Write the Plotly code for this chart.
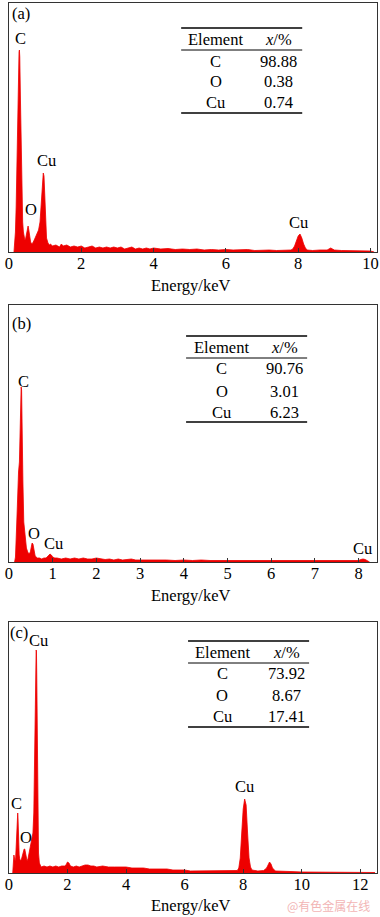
import plotly.graph_objects as go

# ---------------- data (relative intensity, arbitrary units) ----------------
# Panel (a)
energy_a = [0.14, 0.16, 0.18, 0.20, 0.22, 0.24, 0.26, 0.28, 0.29, 0.30, 0.32, 0.34, 0.36, 0.38,
            0.40, 0.42, 0.44, 0.46, 0.48, 0.50, 0.52, 0.53, 0.55, 0.57, 0.60, 0.63, 0.66, 0.70,
            0.74, 0.78, 0.82, 0.86, 0.90, 0.93, 0.95, 0.97, 0.99, 1.01, 1.04, 1.08, 1.12,
            1.15, 1.2, 1.3, 1.4, 1.45, 1.5, 1.6, 1.7, 1.8, 1.9, 2.0, 2.1, 2.2, 2.3, 2.4, 2.5,
            2.6, 2.7, 2.8, 2.9, 3.0, 3.1, 3.2, 3.3, 3.4, 3.5, 3.6, 3.7, 3.8, 3.9, 4.0, 4.2,
            4.4, 4.6, 4.8, 5.0, 5.2, 5.4, 5.6, 5.8, 6.0, 6.2, 6.4, 6.6, 6.8, 7.0, 7.2, 7.4,
            7.6, 7.8, 7.85, 7.9, 7.95, 8.0, 8.05, 8.1, 8.15, 8.2, 8.25, 8.4, 8.6, 8.8, 8.85,
            8.9, 8.95, 9.0, 9.2, 9.4, 9.6, 9.8, 10.0, 10.1]
counts_a = [0, 8, 20, 45, 90, 140, 185, 200, 202, 195, 150, 90, 50, 30,
            20, 14, 12, 13, 17, 22, 26, 26, 22, 15, 10, 8, 9, 12,
            16, 19, 22, 30, 50, 72, 79, 76, 55, 30, 14, 9, 7,
            8, 6, 7, 5, 8, 6, 7, 5, 6, 5, 6, 4, 5, 6, 4, 5,
            4, 5, 4, 5, 4, 5, 3, 4, 5, 3, 4, 3, 4, 3, 4, 3,
            3.5, 2.5, 3, 2.5, 3, 2, 2.5, 2, 2.5, 2, 2, 2.5, 1.5, 2, 2, 1.5,
            2, 2, 3, 6, 11, 16, 18, 14, 8, 4, 2, 1.5, 2, 2, 3,
            4, 3, 2, 1.5, 1.5, 1, 1.5, 1, 0]

# Panel (b)
energy_b = [0.13, 0.15, 0.18, 0.20, 0.22, 0.24, 0.26, 0.27, 0.28, 0.29, 0.30, 0.31, 0.32, 0.34,
            0.36, 0.38, 0.40, 0.43, 0.46, 0.49, 0.51, 0.53, 0.55, 0.57, 0.60, 0.65, 0.70, 0.75,
            0.80, 0.85, 0.90, 0.94, 0.97, 1.00, 1.05, 1.1, 1.2, 1.3, 1.4, 1.5, 1.6, 1.7, 1.8,
            1.9, 2.0, 2.1, 2.2, 2.3, 2.4, 2.5, 2.6, 2.7, 2.8, 2.9, 3.0, 3.2, 3.4, 3.6, 3.8,
            4.0, 4.2, 4.4, 4.6, 4.8, 5.0, 5.2, 5.4, 5.6, 5.8, 6.0, 6.2, 6.4, 6.6, 6.8, 7.0,
            7.2, 7.4, 7.6, 7.8, 8.0, 8.05, 8.1, 8.15, 8.2, 8.25]
counts_b = [0, 5, 40, 70, 90, 100, 150, 165, 175, 172, 130, 105, 80, 40,
            28, 20, 14, 10, 8, 10, 15, 19, 18, 12, 6, 4, 4, 3,
            4, 4, 6, 8, 7, 5, 4, 4, 3, 4, 3, 4, 3, 4, 3,
            3, 4, 3, 2.5, 3, 2, 3, 2, 2.5, 3, 2, 2, 2.5, 2, 2, 1.5,
            2, 1.5, 2, 1.5, 1.5, 1.5, 1, 1.5, 1, 1.5, 1, 1, 1.5, 1, 1, 1,
            1, 1, 1, 1, 1.5, 2.5, 3, 2.5, 1, 0]

# Panel (c)
energy_c = [0.13, 0.15, 0.17, 0.19, 0.21, 0.23, 0.25, 0.27, 0.29, 0.30, 0.31, 0.33, 0.35, 0.37,
            0.40, 0.43, 0.46, 0.49, 0.52, 0.54, 0.56, 0.59, 0.62, 0.65, 0.70, 0.74, 0.78, 0.82,
            0.85, 0.87, 0.89, 0.91, 0.93, 0.94, 0.95, 0.97, 0.99, 1.01, 1.04, 1.08,
            1.1, 1.2, 1.3, 1.4, 1.5, 1.6, 1.7, 1.8, 1.9, 1.95, 2.0, 2.05, 2.1, 2.2, 2.3, 2.4,
            2.5, 2.6, 2.7, 2.8, 2.9, 3.0, 3.2, 3.4, 3.6, 3.8, 4.0, 4.2, 4.4, 4.6, 4.8, 5.0,
            5.2, 5.4, 5.6, 5.8, 6.0, 6.2, 6.4, 6.6, 6.8, 7.0, 7.2, 7.4, 7.6, 7.8, 7.85, 7.9,
            7.95, 8.0, 8.05, 8.1, 8.15, 8.2, 8.25, 8.3, 8.5, 8.7, 8.8, 8.85, 8.9, 8.95, 9.0,
            9.1, 9.3, 9.6, 10.0, 10.5, 11.0, 11.5, 12.0, 12.5]
counts_c = [0, 10, 18, 15, 12, 15, 25, 45, 58, 60, 55, 30, 18, 14,
            12, 14, 18, 22, 24, 24, 20, 14, 12, 14, 22, 28, 32, 40,
            60, 100, 140, 200, 223, 222, 200, 120, 50, 20, 10, 7,
            6, 7, 6, 7, 6, 7, 6, 7, 7, 8, 11, 10, 7, 6, 7, 6,
            7, 8, 8, 7, 7, 6, 7, 6, 6, 6, 6, 5, 5, 5, 4, 4,
            4, 4, 3, 3, 3, 2, 2, 2, 2, 2, 2, 2, 2, 2.5, 5, 15,
            40, 64, 74, 68, 40, 15, 6, 3, 2, 2.5, 5, 8, 11, 9, 5,
            2, 1.5, 1.5, 1, 1, 1, 1, 1, 0.5]

# composition tables
elements = ["C", "O", "Cu"]
fraction_a = ["98.88", "0.38", "0.74"]
fraction_b = ["90.76", "3.01", "6.23"]
fraction_c = ["73.92", "8.67", "17.41"]

# ---------------- layout helpers ----------------
W, H = 380, 917
RED = "#ee0000"
FONT = "Liberation Serif"
FS = 16.5


def px(x, y):
    return x / W, 1 - y / H


fig = go.Figure()

panels = [
    dict(e=energy_a, c=counts_a, top=3, bot=252, xr=[0, 10.18], dt=2, name="x", yname="y",
         tab=dict(x0=180, x1=303, lines=[28, 50, 113], hy=39, rows=[61, 82, 102], c1=215, c2=279,
                  vals=fraction_a),
         labels=[("(a)", 17, 13), ("C", 17, 38), ("O", 27, 210), ("Cu", 43, 161), ("Cu", 299, 222)],
         title_y=285),
    dict(e=energy_b, c=counts_b, top=305, bot=562, xr=[0, 8.42], dt=1, name="x2", yname="y2",
         tab=dict(x0=185, x1=308, lines=[336, 358, 422], hy=347, rows=[369, 391, 412], c1=221, c2=285,
                  vals=fraction_b),
         labels=[("(b)", 18, 323), ("C", 20, 381), ("O", 30, 533), ("Cu", 50, 543), ("Cu", 364, 548)],
         title_y=595),
    dict(e=energy_c, c=counts_c, top=622, bot=873, xr=[0, 12.57], dt=2, name="x3", yname="y3",
         tab=dict(x0=187, x1=310, lines=[641, 663, 727], hy=652, rows=[673, 695, 716], c1=222, c2=287,
                  vals=fraction_c),
         labels=[("(c)", 15, 632), ("Cu", 35, 640), ("C", 13, 803), ("O", 22, 837), ("Cu", 244, 786)],
         title_y=905),
]

annotations = []
shapes = []
for i, p in enumerate(panels):
    fig.add_trace(go.Scatter(x=p["e"], y=p["c"], mode="lines", fill="tozeroy",
                             line=dict(color=RED, width=0.8), fillcolor=RED,
                             xaxis=p["name"], yaxis=p["yname"], showlegend=False,
                             hoverinfo="skip"))
    suffix = "" if i == 0 else str(i + 1)
    ydom = [1 - p["bot"] / H, 1 - p["top"] / H]
    fig.layout["xaxis" + suffix] = dict(
        domain=[5 / W, 379 / W], range=p["xr"], dtick=p["dt"], tick0=0,
        ticks="inside", ticklen=4, tickwidth=1, tickcolor="#333",
        ticklabeloverflow="allow", ticklabelstandoff=-4,
        showline=True, mirror=True, linecolor="#333", linewidth=1,
        showgrid=False, zeroline=False, anchor=p["yname"],
        tickfont=dict(family=FONT, size=FS, color="black"))
    fig.layout["yaxis" + suffix] = dict(
        domain=ydom, range=[0, p["bot"] - p["top"]], showticklabels=False, ticks="",
        showline=True, mirror=True, linecolor="#333", linewidth=1,
        showgrid=False, zeroline=False, anchor=p["name"])

    # axis title
    xx, yy = px(190, p["title_y"])
    annotations.append(dict(text="Energy/keV", x=xx, y=yy, xref="paper", yref="paper",
                            showarrow=False, xanchor="center", yanchor="middle",
                            font=dict(family=FONT, size=FS, color="black")))
    # peak labels
    for t, lx, ly in p["labels"]:
        xx, yy = px(lx, ly)
        annotations.append(dict(text=t, x=xx, y=yy, xref="paper", yref="paper",
                                showarrow=False, xanchor="center", yanchor="middle",
                                font=dict(family=FONT, size=FS, color="black")))
    # table
    tb = p["tab"]
    for k, ly in enumerate(tb["lines"]):
        x0, y0 = px(tb["x0"], ly)
        x1, _ = px(tb["x1"], ly)
        shapes.append(dict(type="line", xref="paper", yref="paper", x0=x0, x1=x1, y0=y0, y1=y0,
                           line=dict(color="black", width=1.5 if k != 1 else 1)))
    rows = [("Element", "<i>x</i>/%", tb["hy"])] + \
           [(el, v, ry) for el, v, ry in zip(elements, tb["vals"], tb["rows"])]
    for a, b, ry in rows:
        for txt, cx in ((a, tb["c1"]), (b, tb["c2"])):
            xx, yy = px(cx, ry)
            annotations.append(dict(text=txt, x=xx, y=yy, xref="paper", yref="paper",
                                    showarrow=False, xanchor="center", yanchor="middle",
                                    font=dict(family=FONT, size=FS, color="black")))

# watermark
xx, yy = px(330, 905)
annotations.append(dict(text="@有色金属在线", x=xx, y=yy, xref="paper", yref="paper",
                        showarrow=False, xanchor="center", yanchor="middle",
                        font=dict(family="Noto Sans CJK SC", size=12, color="#f2b5b5")))

fig.update_layout(width=W, height=H, margin=dict(l=0, r=0, t=0, b=0),
                  paper_bgcolor="white", plot_bgcolor="white",
                  annotations=annotations, shapes=shapes, showlegend=False)

fig.write_html("out.html", config={"displayModeBar": False},
               post_script="document.body.style.margin='0';document.body.style.overflow='hidden';")
